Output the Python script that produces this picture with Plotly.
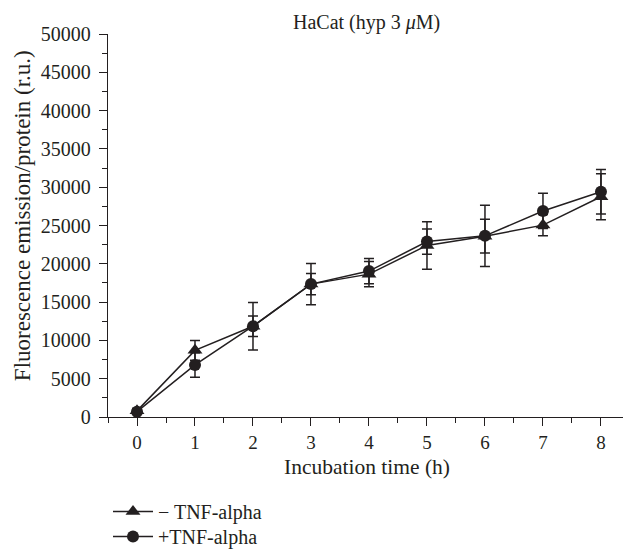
import plotly.graph_objects as go

time_h = [0, 1, 2, 3, 4, 5, 6, 7, 8]
minus_tnf = [800, 8700, 11850, 17350, 18650, 22400, 23600, 25050, 28750]
minus_tnf_err = [300, 1300, 1350, 1400, 1650, 3100, 2200, 1400, 3000]
plus_tnf = [700, 6800, 11850, 17350, 19050, 22900, 23650, 26900, 29400]
plus_tnf_err = [300, 1600, 3100, 2700, 1650, 1650, 4000, 2300, 2900]

x_tick_vals = [0, 1, 2, 3, 4, 5, 6, 7, 8]
x_tick_text = ["0", "1", "2", "3", "4", "5", "6", "7", "8"]
y_tick_vals = [0, 5000, 10000, 15000, 20000, 25000, 30000, 35000, 40000, 45000, 50000]
y_tick_text = ["0", "5000", "10000", "15000", "20000", "25000", "30000",
               "35000", "40000", "45000", "50000"]

FONT = "Liberation Serif, Times New Roman, serif"
INK = "#231f20"

fig = go.Figure()
fig.add_trace(go.Scatter(
    x=time_h, y=minus_tnf, name="\u2212 TNF-alpha", mode="lines+markers",
    line=dict(color=INK, width=1.5),
    marker=dict(symbol="triangle-up", size=13, color=INK),
    error_y=dict(type="data", array=minus_tnf_err, color=INK, thickness=1.5, width=5),
    legend="legend",
))
fig.add_trace(go.Scatter(
    x=time_h, y=plus_tnf, name="+TNF-alpha", mode="lines+markers",
    line=dict(color=INK, width=1.5),
    marker=dict(symbol="circle", size=12, color=INK),
    error_y=dict(type="data", array=plus_tnf_err, color=INK, thickness=1.5, width=5),
    legend="legend2",
))

legend_common = dict(xref="container", yref="container", x=108 / 623,
                     xanchor="left", yanchor="top", font=dict(size=20),
                     bgcolor="rgba(0,0,0,0)", itemwidth=40)

fig.update_layout(
    width=623, height=550,
    margin=dict(l=108, r=0, t=34, b=133, autoexpand=False),
    paper_bgcolor="white", plot_bgcolor="white",
    font=dict(family=FONT, size=20, color=INK),
    showlegend=True,
    legend=dict(y=1 - 492 / 550, **legend_common),
    legend2=dict(y=1 - 517 / 550, **legend_common),
    xaxis=dict(
        range=[-0.5, 8.38], tickvals=x_tick_vals, ticktext=x_tick_text,
        ticks="outside", ticklen=8, automargin=False,
        tickwidth=1.3, tickcolor=INK, showline=True, linecolor=INK,
        linewidth=1.3, showgrid=False, zeroline=False, tickfont=dict(size=19),
        minor=dict(dtick=0.5, tick0=-0.5, ticks="outside", ticklen=5, tickcolor=INK, tickwidth=1.3),
    ),
    yaxis=dict(
        range=[0, 50000], tickvals=y_tick_vals, ticktext=y_tick_text,
        ticks="outside", ticklen=8, automargin=False, ticklabelstandoff=4,
        tickwidth=1.3, tickcolor=INK, showline=True, linecolor=INK,
        linewidth=1.3, showgrid=False, zeroline=False, tickfont=dict(size=20),
        minor=dict(dtick=2500, ticks="outside", ticklen=5, tickcolor=INK, tickwidth=1.3),
    ),
    annotations=[
        dict(text="HaCat (hyp 3 <i>\u03bc</i>M)", xref="x", yref="paper", x=3.95, y=(416.7 - 23) / 382.7,
             xanchor="center", yanchor="middle", showarrow=False, font=dict(size=20)),
        dict(text="Incubation time (h)", xref="paper", yref="paper",
             x=(367 - 108) / 515, y=(416.7 - 467) / 382.7,
             xanchor="center", yanchor="middle", showarrow=False, font=dict(size=21.5)),
        dict(text="Fluorescence emission/protein (r.u.)", xref="paper", yref="paper",
             x=(22 - 108) / 515, y=(416.7 - 216) / 382.7, textangle=-90,
             xanchor="center", yanchor="middle", showarrow=False, font=dict(size=23)),
    ],
)

fig.write_html("out.html", config={"displayModeBar": False},
               post_script="document.body.style.margin='0';")
